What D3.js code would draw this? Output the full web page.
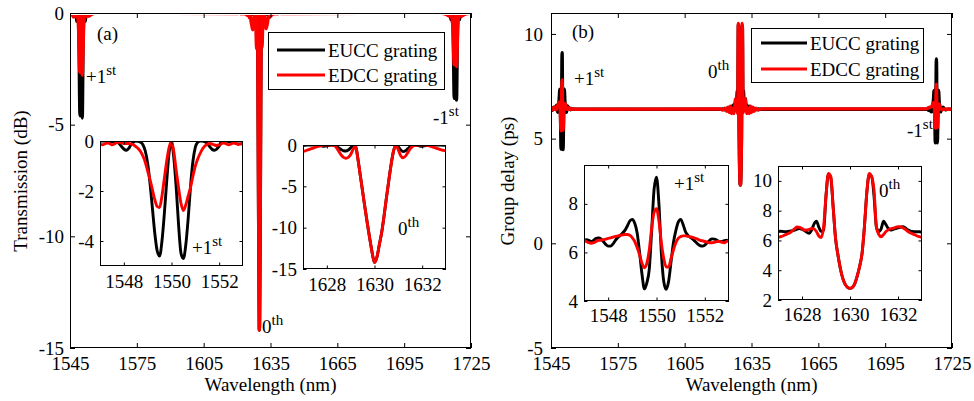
<!DOCTYPE html>
<html>
<head>
<meta charset="utf-8">
<script src="https://cdn.jsdelivr.net/npm/d3@7"></script>
<style>
  body { margin: 0; background: #fff; }
  svg text { font-family: "Liberation Serif", "Times New Roman", serif; font-size: 19px; fill: #000; }
</style>
</head>
<body>
<svg id="fig" width="974" height="401"></svg>
<script>
// ---------------- data ----------------
const seriesNames  = ["EUCC grating", "EDCC grating"];
const seriesColors = ["#000000", "#ff0000"];

const mainTicksX  = [1545, 1575, 1605, 1635, 1665, 1695, 1725];
const transTicksY = [-15, -10, -5, 0];
const delayTicksY = [-5, 0, 5, 10];
const plus1TicksX = [1548, 1550, 1552];
const zeroTicksX  = [1628, 1630, 1632];
const transPlus1TicksY = [-4, -2, 0];
const transZeroTicksY  = [-15, -10, -5, 0];
const delayPlus1TicksY = [4, 6, 8];
const delayZeroTicksY  = [2, 4, 6, 8, 10];

// +1st order window: 1547.0 ... 1553.0 nm, 0.1 nm step
const plus1Start = 1547.0, plus1Step = 0.1;
const transPlus1EUCC = [
  0, 0, 0, -0.01, -0.02, -0.03, -0.02, -0.03, -0.1, -0.22,
  -0.32, -0.37, -0.3, -0.15, -0.04, 0, -0.01, -0.05, -0.15, -0.4,
  -0.9, -1.7, -2.7, -3.7, -4.4, -4.6, -4.0, -2.9, -1.6, -0.45,
  -0.05, -0.7, -1.9, -3.4, -4.5, -4.7, -4.15, -3.1, -1.8, -0.8,
  -0.25, -0.05, 0, 0, -0.03, -0.1, -0.22, -0.33, -0.37, -0.32,
  -0.2, -0.08, -0.01, 0, -0.02, -0.04, -0.03, -0.01, 0, 0, 0];
const transPlus1EDCC = [
  -0.12, -0.15, -0.12, -0.08, -0.1, -0.15, -0.12, -0.06, -0.05, -0.08,
  -0.1, -0.1, -0.1, -0.12, -0.15, -0.22, -0.3, -0.42, -0.6, -0.85,
  -1.2, -1.55, -1.95, -2.35, -2.62, -2.66, -2.2, -1.5, -0.8, -0.25,
  -0.02, -0.45, -1.2, -1.9, -2.5, -2.78, -2.55, -2.2, -1.85, -1.4,
  -1.0, -0.72, -0.5, -0.32, -0.2, -0.13, -0.1, -0.12, -0.16, -0.18,
  -0.15, -0.1, -0.08, -0.12, -0.15, -0.12, -0.08, -0.1, -0.14, -0.12, -0.1];
const delayPlus1EUCC = [
  6.5, 6.52, 6.5, 6.45, 6.5, 6.58, 6.6, 6.56, 6.45, 6.33,
  6.26, 6.26, 6.35, 6.5, 6.62, 6.7, 6.8, 6.92, 7.1, 7.3,
  7.36, 7.2, 6.8, 6.0, 5.1, 4.5, 4.75, 5.3, 6.9, 8.6,
  9.1, 8.0, 6.0, 4.8, 4.48, 4.8, 5.6, 6.4, 6.9, 7.25,
  7.36, 7.15, 6.85, 6.7, 6.62, 6.55, 6.45, 6.35, 6.28, 6.26,
  6.3, 6.4, 6.5, 6.56, 6.55, 6.5, 6.45, 6.45, 6.48, 6.5, 6.48];
const delayPlus1EDCC = [
  6.5, 6.45, 6.4, 6.38, 6.4, 6.45, 6.5, 6.5, 6.52, 6.55,
  6.58, 6.6, 6.63, 6.66, 6.68, 6.7, 6.72, 6.74, 6.74, 6.7,
  6.6, 6.45, 6.2, 5.9, 5.55, 5.37, 5.55, 6.1, 7.0, 7.65,
  7.8, 7.3, 6.4, 5.75, 5.4, 5.4, 5.75, 6.1, 6.4, 6.58,
  6.65, 6.68, 6.68, 6.66, 6.64, 6.62, 6.58, 6.55, 6.5, 6.48,
  6.45, 6.42, 6.4, 6.4, 6.42, 6.45, 6.45, 6.42, 6.4, 6.45, 6.48];

// 0th order window: 1627.0 ... 1633.0 nm, 0.1 nm step
const zeroStart = 1627.0, zeroStep = 0.1;
const transZeroEUCC = [
  -0.05, -0.03, 0, 0, 0, 0, 0, -0.05, -0.12, -0.15,
  -0.1, -0.03, 0, -0.05, -0.15, -0.35, -0.55, -0.7, -0.72, -0.6,
  -0.35, -0.1, -0.05, -1.6, -3.6, -5.6, -7.6, -9.5, -11.3, -13.0,
  -14.2, -13.6, -12.1, -10.6, -8.6, -6.4, -4.3, -2.3, -0.7, -0.02,
  -0.25, -0.6, -0.8, -0.7, -0.45, -0.2, -0.05, 0, -0.05, -0.12,
  -0.15, -0.1, -0.03, 0, 0, 0, 0, 0, -0.02, -0.03, -0.02];
const transZeroEDCC = [
  -0.75, -0.7, -0.6, -0.5, -0.4, -0.3, -0.2, -0.12, -0.05, -0.02,
  0, 0, 0, -0.05, -0.3, -0.75, -1.2, -1.5, -1.6, -1.5,
  -1.15, -0.55, -0.1, -1.6, -3.6, -5.6, -7.6, -9.5, -11.3, -13.0,
  -14.2, -13.6, -12.1, -10.6, -8.6, -6.4, -4.3, -2.3, -0.7, -0.05,
  -0.6, -1.3, -1.55, -1.35, -0.9, -0.45, -0.15, -0.03, 0, 0,
  0, 0, -0.03, -0.1, -0.2, -0.3, -0.4, -0.5, -0.6, -0.65, -0.7];
const delayZeroEUCC = [
  6.6, 6.62, 6.6, 6.58, 6.6, 6.63, 6.66, 6.7, 6.76, 6.8,
  6.75, 6.66, 6.55, 6.48, 6.7, 7.1, 7.3, 6.9, 6.6, 6.7,
  9.0, 10.45, 10.2, 8.2, 6.1, 5.0, 4.1, 3.45, 3.05, 2.85,
  2.78, 2.85, 3.1, 3.6, 4.25, 5.1, 6.9, 9.2, 10.4, 10.3,
  9.0, 6.9, 6.6, 6.8, 7.3, 7.05, 6.8, 6.7, 6.75, 6.8,
  6.85, 6.9, 6.92, 6.85, 6.72, 6.65, 6.6, 6.58, 6.58, 6.58, 6.55];
const delayZeroEDCC = [
  6.2, 6.25, 6.3, 6.38, 6.45, 6.52, 6.65, 6.8, 6.9, 6.88,
  6.8, 6.7, 6.7, 6.75, 6.8, 6.78, 6.6, 6.3, 6.2, 6.9,
  9.0, 10.5, 10.3, 8.2, 6.1, 5.0, 4.1, 3.45, 3.05, 2.85,
  2.78, 2.85, 3.1, 3.6, 4.25, 5.1, 6.9, 9.2, 10.5, 10.3,
  9.4, 6.9, 6.4, 6.25, 6.4, 6.6, 6.72, 6.78, 6.82, 6.88,
  6.92, 6.92, 6.85, 6.75, 6.62, 6.52, 6.45, 6.38, 6.3, 6.25, 6.2];

// -1st order window: 1716.0 ... 1720.0 nm, 0.1 nm step
const minus1Start = 1716.0, minus1Step = 0.1;
const transMinus1EUCC = [
  -0.26, -0.3, -0.25, -0.12, -0.03, 0, -0.01, -0.04, -0.12, -0.3,
  -0.7, -1.4, -2.2, -3.0, -3.65, -3.82, -3.3, -2.4, -1.3, -0.4,
  -0.05, -0.6, -1.6, -2.7, -3.6, -3.9, -3.5, -2.6, -1.5, -0.65,
  -0.2, -0.04, 0, 0, -0.03, -0.08, -0.18, -0.27, -0.3, -0.26, -0.16];
const transMinus1EDCC = [
  -0.09, -0.1, -0.13, -0.17, -0.2, -0.26, -0.34, -0.45, -0.6, -0.8,
  -1.1, -1.4, -1.75, -2.1, -2.3, -2.32, -1.95, -1.3, -0.65, -0.2,
  -0.02, -0.35, -1.05, -1.7, -2.2, -2.4, -2.25, -1.95, -1.6, -1.25,
  -0.9, -0.65, -0.45, -0.3, -0.2, -0.12, -0.1, -0.11, -0.14, -0.15, -0.13];
const delayMinus1EUCC = [
  6.3, 6.3, 6.38, 6.5, 6.6, 6.68, 6.78, 6.9, 7.05, 7.25,
  7.3, 7.15, 6.8, 6.1, 5.3, 4.8, 5.0, 5.5, 6.9, 8.3,
  8.8, 8.2, 5.8, 5.0, 4.8, 5.0, 5.7, 6.4, 6.85, 7.2,
  7.3, 7.1, 6.85, 6.7, 6.6, 6.55, 6.45, 6.36, 6.3, 6.28, 6.32];
const delayMinus1EDCC = [
  6.55, 6.58, 6.6, 6.62, 6.65, 6.68, 6.7, 6.72, 6.72, 6.7,
  6.6, 6.45, 6.25, 5.95, 5.65, 5.5, 5.65, 6.15, 6.95, 7.45,
  7.6, 7.2, 6.45, 5.85, 5.55, 5.52, 5.8, 6.15, 6.42, 6.58,
  6.64, 6.66, 6.66, 6.64, 6.62, 6.6, 6.56, 6.52, 6.48, 6.45, 6.42];

// side-lobe tails and flat stretches between the orders
const transWingLambda = [
  1545.0, 1545.3, 1545.6, 1545.9, 1546.2, 1546.5, 1546.8,
  1553.3, 1553.6, 1553.9, 1554.2, 1554.5, 1554.8, 1555.2, 1555.6, 1556.0,
  1620, 1621, 1622, 1623, 1623.5, 1624, 1624.5, 1625, 1625.5, 1626, 1626.3, 1626.6,
  1633.4, 1633.7, 1634, 1634.5, 1635, 1635.5, 1636, 1636.5, 1637, 1638, 1639, 1640,
  1712, 1712.5, 1713, 1713.5, 1714, 1714.4, 1714.8, 1715.2, 1715.6,
  1720.4, 1720.8, 1721.2, 1721.6, 1722, 1722.5, 1723, 1723.5, 1724, 1725];
const transWingEUCC = [
  0, -0.02, 0, -0.05, 0, -0.08, -0.02,
  -0.04, 0, -0.06, 0, -0.03, 0, -0.02, 0, 0,
  0, 0, 0, 0, 0, 0, -0.02, 0, -0.05, 0, -0.08, -0.02,
  -0.02, -0.08, 0, -0.05, 0, -0.02, 0, 0, 0, 0, 0, 0,
  0, 0, 0, -0.02, 0, -0.04, 0, -0.06, -0.1,
  -0.08, -0.02, -0.05, 0, -0.03, 0, 0, 0, 0, 0];
const transWingEDCC = [
  -0.02, -0.05, -0.03, -0.1, -0.05, -0.18, -0.1,
  -0.15, -0.06, -0.12, -0.04, -0.08, -0.02, -0.05, 0, 0,
  -0.03, 0, -0.04, 0, -0.05, -0.02, -0.1, -0.05, -0.2, -0.15, -0.4, -0.55,
  -0.55, -0.4, -0.15, -0.2, -0.05, -0.1, -0.02, -0.05, 0, -0.04, 0, -0.03,
  0, -0.03, 0, -0.06, -0.02, -0.1, -0.05, -0.15, -0.1,
  -0.1, -0.15, -0.05, -0.1, -0.02, -0.06, 0, -0.03, 0, 0];

const delayWingLambda = [
  1545, 1545.4, 1545.8, 1546.2, 1546.6,
  1553.4, 1553.8, 1554.2, 1554.6, 1555, 1556,
  1621, 1622, 1623, 1624, 1624.5, 1625, 1625.5, 1626, 1626.5,
  1633.5, 1634, 1634.5, 1635, 1635.5, 1636, 1637, 1638, 1639,
  1713, 1714, 1714.5, 1715, 1715.5, 1715.8,
  1720.3, 1720.7, 1721, 1721.5, 1722, 1723, 1725];
const delayWingEUCC = [
  6.4, 6.45, 6.35, 6.5, 6.42,
  6.45, 6.38, 6.44, 6.4, 6.42, 6.4,
  6.4, 6.42, 6.38, 6.45, 6.35, 6.5, 6.4, 6.55, 6.5,
  6.5, 6.55, 6.4, 6.5, 6.35, 6.45, 6.38, 6.42, 6.4,
  6.4, 6.42, 6.35, 6.45, 6.3, 6.28,
  6.38, 6.45, 6.5, 6.42, 6.38, 6.4, 6.4];
const delayWingEDCC = [
  6.42, 6.38, 6.45, 6.4, 6.5,
  6.44, 6.4, 6.43, 6.41, 6.42, 6.4,
  6.42, 6.36, 6.45, 6.3, 6.5, 6.25, 6.55, 6.2, 6.45,
  6.45, 6.2, 6.55, 6.25, 6.5, 6.3, 6.45, 6.36, 6.42,
  6.42, 6.45, 6.48, 6.5, 6.52, 6.54,
  6.4, 6.38, 6.42, 6.4, 6.42, 6.4, 6.4];

// ---------------- helpers ----------------
const grid = (start, step, vals) => vals.map((v, i) => [start + i * step, v]);
const zip = (lams, vals) => lams.map((l, i) => [l, vals[i]]);
const merge = parts => parts.flat().sort((a, b) => a[0] - b[0]);

const transEUCC = merge([zip(transWingLambda, transWingEUCC), grid(plus1Start, plus1Step, transPlus1EUCC),
  grid(zeroStart, zeroStep, transZeroEUCC), grid(minus1Start, minus1Step, transMinus1EUCC)]);
const transEDCC = merge([zip(transWingLambda, transWingEDCC), grid(plus1Start, plus1Step, transPlus1EDCC),
  grid(zeroStart, zeroStep, transZeroEDCC), grid(minus1Start, minus1Step, transMinus1EDCC)]);
const delayEUCC = merge([zip(delayWingLambda, delayWingEUCC), grid(plus1Start, plus1Step, delayPlus1EUCC),
  grid(zeroStart, zeroStep, delayZeroEUCC), grid(minus1Start, minus1Step, delayMinus1EUCC)]);
const delayEDCC = merge([zip(delayWingLambda, delayWingEDCC), grid(plus1Start, plus1Step, delayPlus1EDCC),
  grid(zeroStart, zeroStep, delayZeroEDCC), grid(minus1Start, minus1Step, delayMinus1EDCC)]);

const svg = d3.select("#fig");
const defs = svg.append("defs");
let clipId = 0;

// one boxed axes: curves clipped to the box, inward ticks on all four sides
function axesBox(opt) {
  const x = d3.scaleLinear().domain(opt.xDomain).range([opt.left, opt.right]);
  const y = d3.scaleLinear().domain(opt.yDomain).range([opt.bottom, opt.top]);
  const g = svg.append("g");
  if (opt.fill) {
    g.append("rect").attr("x", opt.left).attr("y", opt.top)
      .attr("width", opt.right - opt.left).attr("height", opt.bottom - opt.top).attr("fill", "#fff");
  }
  const id = "clip" + (clipId++);
  defs.append("clipPath").attr("id", id).append("rect")
    .attr("x", opt.left).attr("y", opt.top + (opt.clipTop || 0))
    .attr("width", opt.right - opt.left).attr("height", opt.bottom - opt.top - (opt.clipTop || 0));
  const line = d3.line().x(d => x(d[0])).y(d => y(d[1])).curve(d3.curveMonotoneX);
  const plot = g.append("g").attr("clip-path", `url(#${id})`);
  opt.series.forEach((s, i) => {
    plot.append("path").datum(s).attr("d", line)
      .attr("fill", "none").attr("stroke", seriesColors[i])
      .attr("stroke-width", opt.lw).attr("stroke-linejoin", "round");
  });
  const tl = opt.tick, fmt = d => String(d), none = () => "";
  const ax = [
    g.append("g").attr("transform", `translate(0,${opt.bottom})`)
      .call(d3.axisBottom(x).tickValues(opt.xTicks).tickSize(-tl).tickSizeOuter(0).tickPadding(opt.padX).tickFormat(fmt)),
    g.append("g").attr("transform", `translate(0,${opt.top})`)
      .call(d3.axisTop(x).tickValues(opt.xTicks).tickSize(-tl).tickSizeOuter(0).tickFormat(none)),
    g.append("g").attr("transform", `translate(${opt.left},0)`)
      .call(d3.axisLeft(y).tickValues(opt.yTicks).tickSize(-tl).tickSizeOuter(0).tickPadding(opt.padY).tickFormat(fmt)),
    g.append("g").attr("transform", `translate(${opt.right},0)`)
      .call(d3.axisRight(y).tickValues(opt.yTicks).tickSize(-tl).tickSizeOuter(0).tickFormat(none))
  ];
  ax.forEach(a => { a.select(".domain").remove(); a.attr("color", "#000"); a.selectAll("line").attr("stroke-width", 1); });
  g.append("rect").attr("x", opt.left + 0.5).attr("y", opt.top + 0.5)
    .attr("width", opt.right - opt.left - 1).attr("height", opt.bottom - opt.top - 1)
    .attr("fill", "none").attr("stroke", "#000").attr("stroke-width", 1);
  return g;
}

function orderLabel(x, yBase, main, sup) {
  const t = svg.append("text").attr("x", x).attr("y", yBase);
  t.append("tspan").text(main);
  t.append("tspan").attr("dy", -8).style("font-size", "15px").text(sup);
}

function legend(x0, y0, w, h, lineX0, lineX1, textX, rowsY) {
  const g = svg.append("g");
  g.append("rect").attr("x", x0 + 0.5).attr("y", y0 + 0.5).attr("width", w).attr("height", h)
    .attr("fill", "#fff").attr("stroke", "#000").attr("stroke-width", 1);
  seriesNames.forEach((name, i) => {
    g.append("line").attr("x1", lineX0).attr("x2", lineX1).attr("y1", rowsY[i]).attr("y2", rowsY[i])
      .attr("stroke", seriesColors[i]).attr("stroke-width", 2.8);
    g.append("text").attr("x", textX).attr("y", rowsY[i] + 6.5).text(name);
  });
}

// ---------------- panel (a): transmission ----------------
axesBox({ left: 70, right: 471, top: 13, bottom: 348, xDomain: [1545, 1725], yDomain: [-15, 0],
  xTicks: mainTicksX, yTicks: transTicksY, tick: 5, padX: 8.5, padY: 6, lw: 3.4, clipTop: 2,
  series: [transEUCC, transEDCC] });
legend(268, 32, 176, 57, 277, 325, 328, [50, 75]);
axesBox({ left: 100, right: 243, top: 141, bottom: 266, xDomain: [1547, 1553], yDomain: [-5, 0],
  xTicks: plus1TicksX, yTicks: transPlus1TicksY, tick: 3.5, padX: 8.5, padY: 6, lw: 2.9, fill: true,
  series: [grid(plus1Start, plus1Step, transPlus1EUCC), grid(plus1Start, plus1Step, transPlus1EDCC)] });
axesBox({ left: 303, right: 446, top: 145, bottom: 269, xDomain: [1627, 1633], yDomain: [-15, 0],
  xTicks: zeroTicksX, yTicks: transZeroTicksY, tick: 3.5, padX: 8.5, padY: 6, lw: 2.9, fill: true,
  series: [grid(zeroStart, zeroStep, transZeroEUCC), grid(zeroStart, zeroStep, transZeroEDCC)] });

svg.append("text").attr("x", 97).attr("y", 40).text("(a)");
orderLabel(86, 83, "+1", "st");
orderLabel(433, 124, "-1", "st");
orderLabel(262, 333, "0", "th");
orderLabel(192, 254, "+1", "st");
orderLabel(398, 235, "0", "th");

svg.append("text").attr("text-anchor", "middle")
  .attr("transform", "translate(27,181) rotate(-90)").text("Transmission (dB)");
svg.append("text").attr("text-anchor", "middle").attr("x", 270.5).attr("y", 391).text("Wavelength (nm)");

// ---------------- panel (b): group delay ----------------
axesBox({ left: 551, right: 952, top: 13, bottom: 348, xDomain: [1545, 1725], yDomain: [-5, 11],
  xTicks: mainTicksX, yTicks: delayTicksY, tick: 5, padX: 8.5, padY: 8, lw: 3.4,
  series: [delayEUCC, delayEDCC] });
legend(751, 28, 172, 54, 761, 807, 810, [43, 69]);
axesBox({ left: 584, right: 729, top: 165, bottom: 301, xDomain: [1547, 1553], yDomain: [4, 9.6],
  xTicks: plus1TicksX, yTicks: delayPlus1TicksY, tick: 3.5, padX: 8, padY: 6, lw: 2.9, fill: true,
  series: [grid(plus1Start, plus1Step, delayPlus1EUCC), grid(plus1Start, plus1Step, delayPlus1EDCC)] });
axesBox({ left: 778, right: 922, top: 166, bottom: 300, xDomain: [1627, 1633], yDomain: [2, 11],
  xTicks: zeroTicksX, yTicks: delayZeroTicksY, tick: 3.5, padX: 8, padY: 6, lw: 2.9, fill: true,
  series: [grid(zeroStart, zeroStep, delayZeroEUCC), grid(zeroStart, zeroStep, delayZeroEDCC)] });

svg.append("text").attr("x", 572).attr("y", 38).text("(b)");
orderLabel(574, 85, "+1", "st");
orderLabel(708, 78, "0", "th");
orderLabel(907, 137, "-1", "st");
orderLabel(674, 190, "+1", "st");
orderLabel(879, 197, "0", "th");

svg.append("text").attr("text-anchor", "middle")
  .attr("transform", "translate(514,181) rotate(-90)").text("Group delay (ps)");
svg.append("text").attr("text-anchor", "middle").attr("x", 751.5).attr("y", 391).text("Wavelength (nm)");
</script>
</body>
</html>
